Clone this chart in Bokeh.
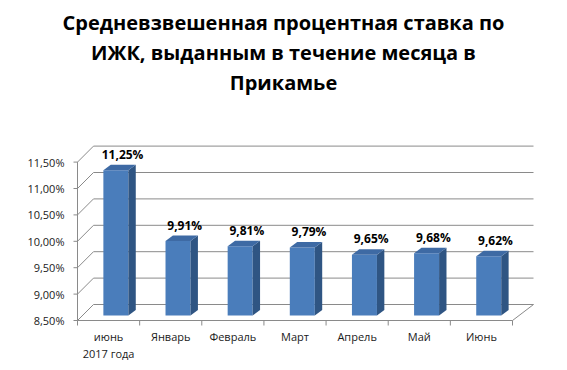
from bokeh.plotting import figure
from bokeh.models import Label, Range1d
from bokeh.core.properties import value
from bokeh.embed import file_html
from bokeh.resources import INLINE
import numpy as np

title_lines = ["Средневзвешенная процентная ставка по",
               "ИЖК, выданным в течение месяца в",
               "Прикамье"]
categories = ["июнь\n2017 года", "Январь", "Февраль", "Март", "Апрель", "Май", "Июнь"]
rates = [11.25, 9.91, 9.81, 9.79, 9.65, 9.68, 9.62]
rate_labels = ["11,25%", "9,91%", "9,81%", "9,79%", "9,65%", "9,68%", "9,62%"]
y_ticks = [8.5, 9.0, 9.5, 10.0, 10.5, 11.0, 11.5]
y_tick_labels = ["8,50%", "9,00%", "9,50%", "10,00%", "10,50%", "11,00%", "11,50%"]

FONT = "Open Sans"
# frame spans the whole figure; front axes corner at px (AX, AY from top)
W, H = 567, 370
AX, AY = 77, 320
N = len(categories)
PPX = 435.0 / N
PPY = 52.8
Y0 = y_ticks[0]

def dx(px):
    return px / PPX

def dy(px):
    return px / PPY

p = figure(frame_width=W, frame_height=H,
           x_range=Range1d(-AX / PPX, (W - AX) / PPX),
           y_range=Range1d(Y0 - (H - AY) / PPY, Y0 + AY / PPY),
           min_border=0, x_axis_location=None, y_axis_location=None,
           output_backend="svg", toolbar_location=None)
p.outline_line_color = None
p.xgrid.visible = False
p.ygrid.visible = False
p.background_fill_color = "white"
p.border_fill_color = "white"

GRID = "#8a8a8a"
TXT = "#1a1a1a"
# back wall offsets
BDX_L, BDX_R, BDY = 16, 21, 16
yt = np.array(y_ticks)
bx0 = dx(BDX_L)
bx1 = N + dx(BDX_R)
# back wall gridlines
p.segment(x0=[bx0] * len(yt), y0=yt + dy(BDY), x1=[bx1] * len(yt), y1=yt + dy(BDY),
          line_color=GRID, line_width=1)
# left wall diagonals
p.segment(x0=[0] * len(yt), y0=yt, x1=[bx0] * len(yt), y1=yt + dy(BDY),
          line_color=GRID, line_width=1)
# floor right diagonal
p.segment(x0=[N], y0=[Y0], x1=[bx1], y1=[Y0 + dy(BDY)], line_color=GRID, line_width=1)

# value (y) axis at the front-left edge
p.segment(x0=[0], y0=[y_ticks[0]], x1=[0], y1=[y_ticks[-1]], line_color=GRID, line_width=1)
p.segment(x0=[dx(-4)] * len(yt), y0=yt, x1=[0] * len(yt), y1=yt, line_color=GRID, line_width=1)
p.text(x=[dx(-13)] * len(yt), y=yt, text=y_tick_labels,
       text_font=value(FONT), text_font_size="11px", text_color=TXT,
       text_align="right", text_baseline="middle")

# category axis at the front floor edge
centers = np.arange(N) + 0.5
edges = np.arange(N + 1)
p.segment(x0=[0], y0=[Y0], x1=[N], y1=[Y0], line_color=GRID, line_width=1)
p.segment(x0=edges, y0=[Y0] * len(edges), x1=edges, y1=[Y0 - dy(5)] * len(edges),
          line_color=GRID, line_width=1)
p.text(x=centers, y=[Y0 - dy(8)] * N, text=categories,
       text_font=value(FONT), text_font_size="11px", text_color=TXT,
       text_align="center", text_baseline="top", text_line_height=1.15)

# bars
FDX, FDY = 7.3, 5.0   # bar front face offset
BW = 25.0             # bar front width
SD_X, SD_Y = 7.4, 5.5  # bar depth
vals = np.array(rates)
xl = centers + dx(FDX - BW / 2)
xr = centers + dx(FDX + BW / 2)
yb = np.full(N, Y0 + dy(FDY))
ytop = vals + dy(FDY)

p.quad(left=xl, right=xr, bottom=yb, top=ytop, fill_color="#4a7dbb", line_color=None)
side_xs = [[a, a + dx(SD_X), a + dx(SD_X), a] for a in xr]
side_ys = [[b, b + dy(SD_Y), t + dy(SD_Y), t] for b, t in zip(yb, ytop)]
p.patches(side_xs, side_ys, fill_color="#2f5583", line_color=None)
top_xs = [[a, a + dx(SD_X), b + dx(SD_X), b] for a, b in zip(xl, xr)]
top_ys = [[t, t + dy(SD_Y), t + dy(SD_Y), t] for t in ytop]
p.patches(top_xs, top_ys, fill_color="#3e6aa4", line_color=None)

# value labels
p.text(x=centers + dx(14), y=ytop + dy(16), text=rate_labels,
       text_font=value(FONT), text_font_style="bold", text_font_size="12px",
       text_align="center", text_baseline="middle", text_color="#000000")

# title
title_cx = dx(283 - AX)
for i, line in enumerate(title_lines):
    p.add_layout(Label(x=title_cx, y=Y0 + dy(AY - 22 - 30 * i), text=line,
                       text_align="center", text_baseline="middle",
                       text_font=FONT, text_font_style="bold",
                       text_font_size="20px", text_color="#000000"))

open("out.html", "w").write(file_html(p, INLINE))
